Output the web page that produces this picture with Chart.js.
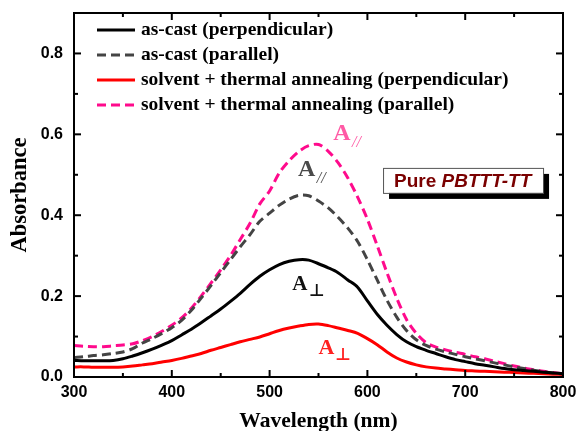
<!DOCTYPE html>
<html lang="en">
<head>
  <meta charset="UTF-8">
  <title>Absorbance spectra - Pure PBTTT-TT</title>
  <script src="https://cdn.jsdelivr.net/npm/chart.js"></script>
  <style>
    body { margin: 0; background: #fff; }
    canvas { display: block; }
  </style>
</head>
<body>
  <canvas id="chart" width="578" height="431"></canvas>

  <script>
    // wavelength (nm)
    const wavelength = [
      300, 310, 320, 330, 340, 350, 360, 370, 380, 390,
      400, 410, 420, 430, 440, 450, 460, 470, 480, 490,
      500, 510, 520, 530, 540, 550, 560, 570, 580, 590,
      600, 610, 620, 630, 640, 650, 660, 670, 680, 690,
      700, 710, 720, 730, 740, 750, 760, 770, 780, 790, 800
    ];

    // as-cast, perpendicular
    const asCastPerp = [
      0.041, 0.040, 0.040, 0.040, 0.041, 0.045, 0.052, 0.060, 0.069, 0.079,
      0.090, 0.104, 0.118, 0.134, 0.151, 0.168, 0.187, 0.207, 0.229, 0.249,
      0.265, 0.278, 0.286, 0.290, 0.289, 0.280, 0.270, 0.258, 0.240, 0.222,
      0.188, 0.155, 0.128, 0.105, 0.087, 0.075, 0.066, 0.058, 0.050, 0.043,
      0.038, 0.033, 0.029, 0.025, 0.021, 0.018, 0.016, 0.014, 0.012, 0.010, 0.008
    ];

    // as-cast, parallel
    const asCastPara = [
      0.048, 0.050, 0.053, 0.055, 0.058, 0.062, 0.070, 0.084, 0.095, 0.108,
      0.122, 0.140, 0.165, 0.195, 0.226, 0.258, 0.290, 0.322, 0.352, 0.385,
      0.405, 0.425, 0.440, 0.449, 0.448, 0.435, 0.418, 0.395, 0.368, 0.335,
      0.290, 0.240, 0.190, 0.148, 0.115, 0.092, 0.078, 0.069, 0.062, 0.056,
      0.050, 0.045, 0.040, 0.035, 0.030, 0.025, 0.021, 0.017, 0.013, 0.010, 0.008
    ];

    // solvent + thermal annealing, perpendicular
    const annealPerp = [
      0.025, 0.025, 0.024, 0.024, 0.024, 0.025, 0.027, 0.030, 0.033, 0.037,
      0.041, 0.046, 0.052, 0.058, 0.066, 0.073, 0.080, 0.087, 0.093, 0.099,
      0.107, 0.115, 0.121, 0.126, 0.130, 0.131, 0.127, 0.121, 0.115, 0.108,
      0.095, 0.080, 0.062, 0.047, 0.037, 0.030, 0.025, 0.022, 0.020, 0.018,
      0.016, 0.015, 0.014, 0.013, 0.012, 0.011, 0.010, 0.009, 0.008, 0.007, 0.006
    ];

    // solvent + thermal annealing, parallel
    const annealPara = [
      0.078, 0.076, 0.075, 0.075, 0.077, 0.079, 0.082, 0.090, 0.100, 0.113,
      0.128, 0.146, 0.170, 0.200, 0.232, 0.265, 0.300, 0.340, 0.380, 0.428,
      0.460, 0.505, 0.535, 0.558, 0.572, 0.575, 0.558, 0.530, 0.492, 0.445,
      0.390, 0.325, 0.258, 0.195, 0.142, 0.108, 0.085, 0.074, 0.067, 0.061,
      0.056, 0.050, 0.045, 0.039, 0.033, 0.027, 0.022, 0.018, 0.014, 0.011, 0.008
    ];

    const seriesLabels = [
      'as-cast (perpendicular)',
      'as-cast (parallel)',
      'solvent + thermal annealing (perpendicular)',
      'solvent + thermal annealing (parallel)'
    ];

    const xTicks = [300, 400, 500, 600, 700, 800];
    const xMinorTicks = [350, 450, 550, 650, 750];
    const yTicks = ['0.0', '0.2', '0.4', '0.6', '0.8'];
    const yMinorTicks = [0.1, 0.3, 0.5, 0.7];

    const colors = ['#000000', '#444444', '#ff0000', '#ff0a8c'];
    const dashes = [[], [9, 5], [], [9, 5]];

    const pts = arr => wavelength.map((w, i) => ({ x: w, y: arr[i] }));
    const allSeries = [asCastPerp, asCastPara, annealPerp, annealPara];

    // frame and inward tick marks on all four sides
    const frameTicks = {
      id: 'frameTicks',
      afterDraw(chart) {
        const { ctx, chartArea: a, scales } = chart;
        const xs = scales.x, ys = scales.y;
        ctx.save();
        ctx.strokeStyle = '#000';
        ctx.lineWidth = 2;
        ctx.strokeRect(a.left, a.top, a.right - a.left, a.bottom - a.top);
        const tick = (x1, y1, x2, y2) => {
          ctx.beginPath(); ctx.moveTo(x1, y1); ctx.lineTo(x2, y2); ctx.stroke();
        };
        xTicks.forEach(v => {
          const px = xs.getPixelForValue(v);
          tick(px, a.bottom, px, a.bottom - 7);
          tick(px, a.top, px, a.top + 7);
        });
        xMinorTicks.forEach(v => {
          const px = xs.getPixelForValue(v);
          tick(px, a.bottom, px, a.bottom - 4);
          tick(px, a.top, px, a.top + 4);
        });
        yTicks.forEach(v => {
          const py = ys.getPixelForValue(parseFloat(v));
          tick(a.left, py, a.left + 7, py);
          tick(a.right, py, a.right - 7, py);
        });
        yMinorTicks.forEach(v => {
          const py = ys.getPixelForValue(v);
          tick(a.left, py, a.left + 4, py);
          tick(a.right, py, a.right - 4, py);
        });
        ctx.restore();
      }
    };

    // legend in the upper left corner of the plot
    const legendBox = {
      id: 'legendBox',
      afterDraw(chart) {
        const { ctx, chartArea: a } = chart;
        ctx.save();
        ctx.font = 'bold 19.5px "Liberation Serif", "Times New Roman", serif';
        ctx.textBaseline = 'middle';
        ctx.fillStyle = '#000';
        seriesLabels.forEach((label, i) => {
          const y = a.top + 17 + i * 25;
          ctx.strokeStyle = colors[i];
          ctx.lineWidth = 3;
          ctx.setLineDash(dashes[i]);
          ctx.beginPath();
          ctx.moveTo(a.left + 23, y);
          ctx.lineTo(a.left + 61, y);
          ctx.stroke();
          ctx.setLineDash([]);
          ctx.fillText(label, a.left + 67, y);
        });
        ctx.restore();
      }
    };

    // A// and A⊥ labels plus the sample box
    const annotations = {
      id: 'annotations',
      afterDatasetsDraw(chart) {
        const { ctx, scales } = chart;
        const xs = scales.x, ys = scales.y;
        const marks = [
          { x: 574, y: 0.603, color: '#ff5aa5', sub: '//', size: 24 },
          { x: 538, y: 0.515, color: '#4a4a4a', sub: '//', size: 24 },
          { x: 531, y: 0.231, color: '#111111', sub: '\u22a5', size: 21 },
          { x: 558, y: 0.073, color: '#ff2020', sub: '\u22a5', size: 22 }
        ];
        ctx.save();
        marks.forEach(m => {
          const px = xs.getPixelForValue(m.x);
          const py = ys.getPixelForValue(m.y);
          ctx.fillStyle = m.color;
          ctx.textBaseline = 'middle';
          ctx.textAlign = 'center';
          ctx.font = 'bold ' + m.size + 'px "Liberation Serif", serif';
          ctx.fillText('A', px, py + 1);
          ctx.textAlign = 'left';
          if (m.sub === '//') {
            ctx.font = 'italic 16px "Liberation Serif", serif';
            ctx.fillText(m.sub, px + 10, py + 10);
          } else {
            ctx.font = 'bold 17px "DejaVu Sans", sans-serif';
            ctx.fillText(m.sub, px + 9, py + 8);
          }
        });

        // sample name box with black drop shadow
        const bx = xs.getPixelForValue(616), by = ys.getPixelForValue(0.517);
        const bw = 160, bh = 25;
        ctx.fillStyle = '#000';
        ctx.fillRect(bx + 6, by + 6, bw, bh);
        ctx.fillStyle = '#fff';
        ctx.fillRect(bx, by, bw, bh);
        ctx.strokeStyle = '#555';
        ctx.lineWidth = 1;
        ctx.strokeRect(bx + 0.5, by + 0.5, bw, bh);
        ctx.fillStyle = '#7a0000';
        ctx.textBaseline = 'middle';
        ctx.textAlign = 'left';
        ctx.font = 'bold 19px "Liberation Sans", Arial, sans-serif';
        const pure = 'Pure ';
        ctx.fillText(pure, bx + 11, by + bh / 2 + 1);
        const w = ctx.measureText(pure).width;
        ctx.font = 'italic bold 19px "Liberation Sans", Arial, sans-serif';
        ctx.fillText('PBTTT-TT', bx + 11 + w, by + bh / 2 + 1);
        ctx.restore();
      }
    };

    const tickFont = { family: '"Liberation Sans", Arial, sans-serif', size: 16, weight: 'bold' };
    const titleFont = { family: '"Liberation Serif", "Times New Roman", serif', weight: 'bold' };

    new Chart(document.getElementById('chart'), {
      type: 'line',
      data: {
        datasets: allSeries.map((arr, i) => ({
          label: seriesLabels[i],
          data: pts(arr),
          borderColor: colors[i],
          borderWidth: 3,
          borderDash: dashes[i],
          pointRadius: 0,
          tension: 0.3,
          fill: false
        }))
      },
      options: {
        responsive: false,
        animation: false,
        devicePixelRatio: 1,
        layout: { padding: { top: 13, right: 15, left: 0, bottom: 0 } },
        plugins: {
          legend: { display: false },
          tooltip: { enabled: false }
        },
        scales: {
          x: {
            type: 'linear',
            min: 300,
            max: 800,
            afterBuildTicks: s => { s.ticks = xTicks.map(v => ({ value: v })); },
            afterFit: s => { s.height = 54; s.paddingLeft = 0; s.paddingRight = 0; },
            grid: { display: false, drawTicks: false },
            border: { display: false },
            ticks: { font: tickFont, color: '#000', padding: 6, maxRotation: 0, autoSkip: false,
                     callback: v => String(v) },
            title: { display: true, text: 'Wavelength (nm)', color: '#000',
                     font: Object.assign({ size: 21.5 }, titleFont), padding: { top: 0, bottom: -3 } }
          },
          y: {
            type: 'linear',
            min: 0,
            max: 0.9,
            afterBuildTicks: s => { s.ticks = yTicks.map(v => ({ value: parseFloat(v) })); },
            afterFit: s => { s.width = 74; s.paddingTop = 0; s.paddingBottom = 0; },
            grid: { display: false, drawTicks: false },
            border: { display: false },
            ticks: { font: tickFont, color: '#000', padding: 11, autoSkip: false,
                     callback: (v, i) => yTicks[i] },
            title: { display: true, text: 'Absorbance', color: '#000',
                     font: Object.assign({ size: 22.5 }, titleFont), padding: { top: 7, bottom: 0 } }
          }
        }
      },
      plugins: [frameTicks, legendBox, annotations]
    });
  </script>
</body>
</html>
